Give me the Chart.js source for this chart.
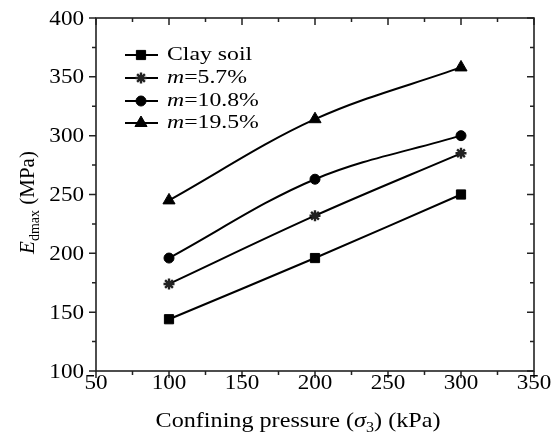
<!DOCTYPE html>
<html><head><meta charset="utf-8">
<script src="https://cdn.jsdelivr.net/npm/chart.js@4.4.1/dist/chart.umd.min.js"></script>
<style>html,body{margin:0;padding:0;background:#fff}#wrap{width:555px;height:437px}</style>
</head><body><div id="wrap"><canvas id="c" width="555" height="437"></canvas></div>
<script>
const pressures = [100, 200, 300];
const clayValues = [144, 196, 250];
const m57Values = [174, 232, 285];
const m108Values = [196, 263, 300];
const m195Values = [245, 314, 358];
const seriesNames = ["Clay soil", "m=5.7%", "m=10.8%", "m=19.5%"];
const xTicks = [50, 100, 150, 200, 250, 300, 350];
const yTicks = [100, 150, 200, 250, 300, 350, 400];

const SERIF = '"Liberation Serif", "Times New Roman", serif';

function mk(label, vals, style, radius, extra) {
  return Object.assign({
    label: label,
    data: pressures.map((x, i) => ({x: x, y: vals[i]})),
    borderColor: '#000', backgroundColor: '#000',
    pointBackgroundColor: '#000', pointBorderColor: '#000',
    borderWidth: 2, tension: 0.35,
    pointStyle: style, pointRadius: radius, pointBorderWidth: 1
  }, extra || {});
}
const datasets = [
  mk(seriesNames[0], clayValues, 'rect', 6.5),
  mk(seriesNames[1], m57Values, 'star', 5.5, {pointBorderWidth: 2.4, pointBorderColor: '#222'}),
  mk(seriesNames[2], m108Values, 'circle', 5),
  mk(seriesNames[3], m195Values, 'triangle', 7)
];

function stretchedText(ctx, text, x, y, sx, align) {
  const w = ctx.measureText(text).width * sx;
  let left = x;
  if (align === 'center') left = x - w / 2;
  else if (align === 'right') left = x - w;
  ctx.save();
  ctx.translate(left, y);
  ctx.scale(sx, 1);
  ctx.textAlign = 'left';
  ctx.fillText(text, 0, 0);
  ctx.restore();
  return w;
}

const framePlugin = {
  id: 'frame',
  afterDraw(chart) {
    const {ctx, chartArea: a, scales} = chart;
    const xs = scales.x, ys = scales.y;
    ctx.save();
    ctx.strokeStyle = '#222';
    ctx.lineWidth = 1.6;
    ctx.strokeRect(a.left, a.top, a.right - a.left, a.bottom - a.top);
    ctx.lineWidth = 1.5;
    ctx.beginPath();
    for (let v = 50; v <= 350; v += 25) {
      const px = xs.getPixelForValue(v);
      const L = v % 50 === 0 ? 7 : 4;
      ctx.moveTo(px, a.bottom); ctx.lineTo(px, a.bottom + L);
      ctx.moveTo(px, a.top); ctx.lineTo(px, a.top + L);
    }
    for (let v = 100; v <= 400; v += 25) {
      const py = ys.getPixelForValue(v);
      const L = v % 50 === 0 ? 7 : 4;
      ctx.moveTo(a.left, py); ctx.lineTo(a.left - L, py);
      ctx.moveTo(a.right, py); ctx.lineTo(a.right - L, py);
    }
    ctx.stroke();

    // Tick labels
    ctx.fillStyle = '#000';
    ctx.font = '21px ' + SERIF;
    ctx.textBaseline = 'middle';
    yTicks.forEach(v => stretchedText(ctx, String(v), a.left - 12, ys.getPixelForValue(v) + 1, 1.1, 'right'));
    xTicks.forEach(v => stretchedText(ctx, String(v), xs.getPixelForValue(v), a.bottom + 12, 1.1, 'center'));

    // Legend
    const lx0 = 125, lx1 = 158, mx = 141, tx = 167;
    const rows = [55, 78, 101, 123];
    datasets.forEach((d, i) => {
      const y = rows[i];
      ctx.strokeStyle = '#000'; ctx.lineWidth = 2;
      ctx.beginPath(); ctx.moveTo(lx0, y); ctx.lineTo(lx1, y); ctx.stroke();
      ctx.fillStyle = '#000'; ctx.strokeStyle = d.pointBorderColor;
      ctx.lineWidth = d.pointBorderWidth;
      Chart.helpers.drawPoint(ctx, {pointStyle: d.pointStyle, radius: d.pointRadius, borderWidth: d.pointBorderWidth, rotation: 0}, mx, y);
      ctx.fillStyle = '#000';
      const name = d.label;
      const sx = 1.25;
      if (name.startsWith('m=')) {
        ctx.font = 'italic 19px ' + SERIF;
        const w = stretchedText(ctx, 'm', tx, y, sx, 'left');
        ctx.font = '19px ' + SERIF;
        stretchedText(ctx, name.slice(1), tx + w, y, sx, 'left');
      } else {
        ctx.font = '19px ' + SERIF;
        stretchedText(ctx, name, tx, y, sx, 'left');
      }
    });

    // X title
    ctx.textBaseline = 'alphabetic';
    const sxT = 1.15;
    const parts = [
      {t: 'Confining pressure (', f: '21px '},
      {t: 'σ', f: 'italic 21px '},
      {t: '3', f: '14px ', dy: 5},
      {t: ') (kPa)', f: '21px '}
    ];
    let tw = 0;
    parts.forEach(p => { ctx.font = p.f + SERIF; p.w = ctx.measureText(p.t).width * sxT; tw += p.w; });
    let x = 298 - tw / 2;
    const by = 427;
    parts.forEach(p => { ctx.font = p.f + SERIF; stretchedText(ctx, p.t, x, by + (p.dy || 0), sxT, 'left'); x += p.w; });

    // Y title
    const yparts = [
      {t: 'E', f: 'italic 21px '},
      {t: 'dmax', f: '14px ', dy: 5},
      {t: ' (MPa)', f: '21px '}
    ];
    tw = 0;
    yparts.forEach(p => { ctx.font = p.f + SERIF; p.w = ctx.measureText(p.t).width; tw += p.w; });
    ctx.translate(34, (a.top + a.bottom) / 2 + 8);
    ctx.rotate(-Math.PI / 2);
    x = -tw / 2;
    yparts.forEach(p => { ctx.font = p.f + SERIF; ctx.fillText(p.t, x, p.dy || 0); x += p.w; });
    ctx.restore();
  }
};

new Chart(document.getElementById('c'), {
  type: 'line',
  data: {datasets: datasets},
  plugins: [framePlugin],
  options: {
    responsive: false, animation: false, devicePixelRatio: 1,
    layout: {padding: {top: 18, right: 21, left: 0, bottom: 0}},
    plugins: {legend: {display: false}, tooltip: {enabled: false}},
    scales: {
      x: {
        type: 'linear', min: 50, max: 350,
        afterBuildTicks: s => { s.ticks = xTicks.map(v => ({value: v})); },
        afterFit: s => { s.height = 66; },
        grid: {display: false}, border: {display: false},
        ticks: {display: false}
      },
      y: {
        type: 'linear', min: 100, max: 400,
        afterBuildTicks: s => { s.ticks = yTicks.map(v => ({value: v})); },
        afterFit: s => { s.width = 96; },
        grid: {display: false}, border: {display: false},
        ticks: {display: false}
      }
    }
  }
});
</script></body></html>
